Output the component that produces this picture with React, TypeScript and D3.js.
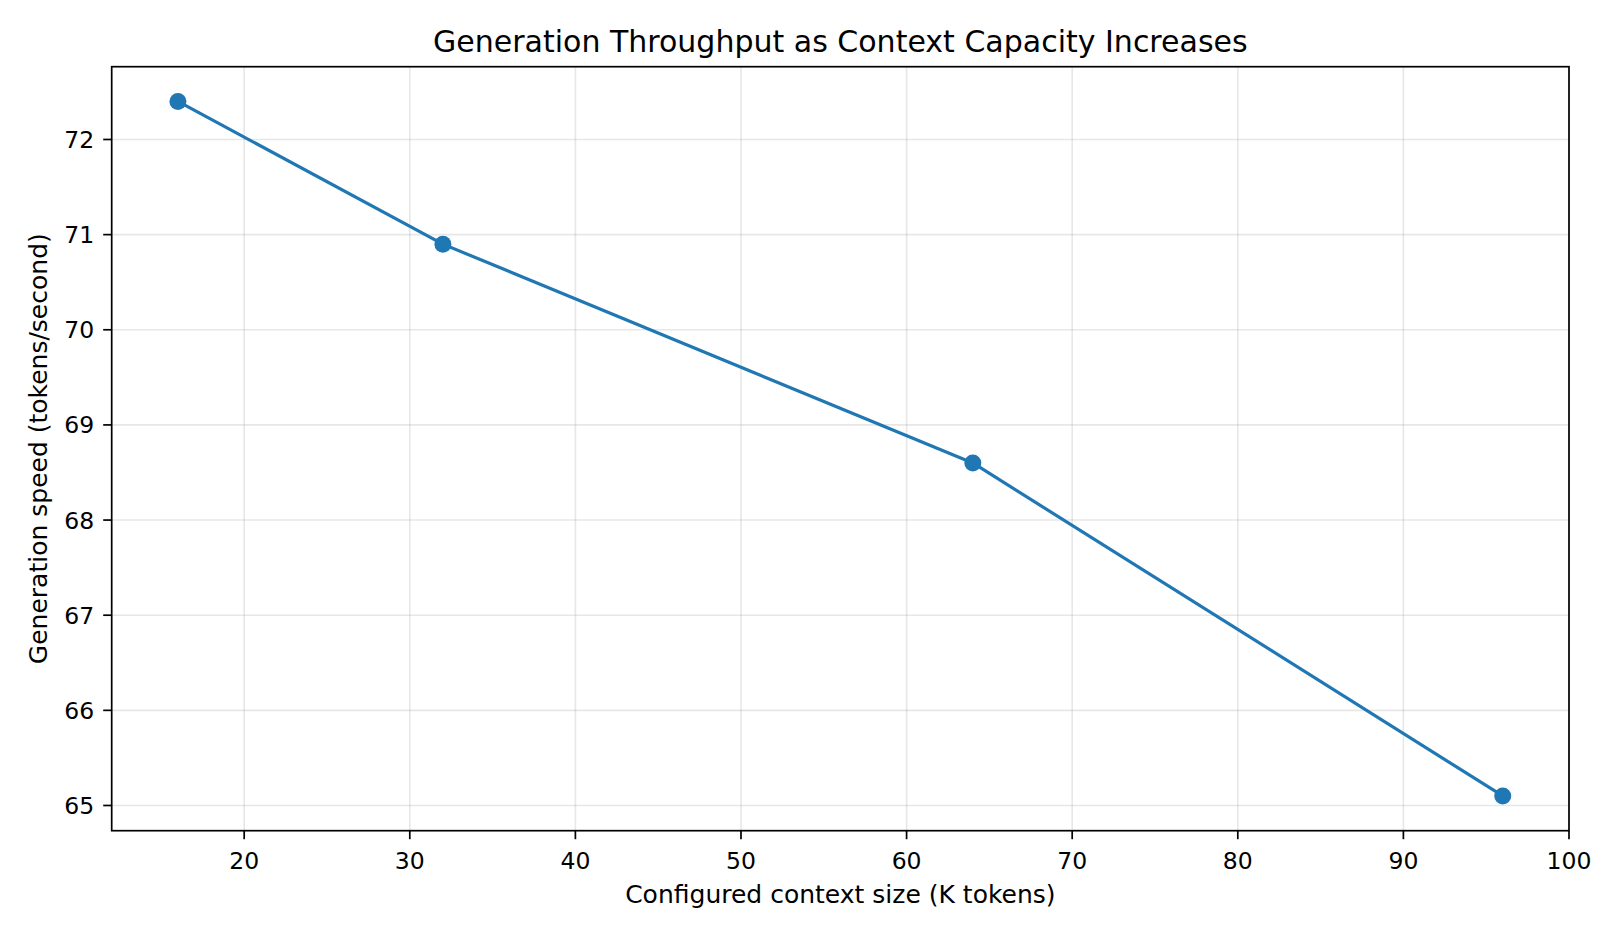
import React from 'react';
import * as d3 from 'd3';

// context size (K tokens) vs generation speed
const contextSizes = [16, 32, 64, 96];
const speeds = [72.4, 70.9, 68.6, 65.1];
const xTicks = [20, 30, 40, 50, 60, 70, 80, 90, 100];
const yTicks = [65, 66, 67, 68, 69, 70, 71, 72];

const title = 'Generation Throughput as Context Capacity Increases';
const xLabel = 'Configured context size (K tokens)';
const yLabel = 'Generation speed (tokens/second)';

const W = 1620;
const H = 936;
const margin = { top: 66.7, right: 51, bottom: 105.3, left: 111.7 };
const font = '"DejaVu Sans", sans-serif';
const blue = '#1f77b4';

export default function App() {
  const innerW = W - margin.left - margin.right;
  const innerH = H - margin.top - margin.bottom;

  const pad = 0.05;
  const xExt = d3.extent(contextSizes) as [number, number];
  const yExt = d3.extent(speeds) as [number, number];
  const xr = xExt[1] - xExt[0];
  const yr = yExt[1] - yExt[0];

  const x = d3.scaleLinear()
    .domain([xExt[0] - xr * pad, xExt[1] + xr * pad])
    .range([0, innerW]);
  const y = d3.scaleLinear()
    .domain([yExt[0] - yr * pad, yExt[1] + yr * pad])
    .range([innerH, 0]);

  const line = d3.line<number>()
    .x((_, i) => x(contextSizes[i]))
    .y(d => y(d));

  const tickLen = 8.5;

  return (
    <svg
      width={W}
      height={H}
      style={{ position: 'absolute', left: 0, top: 0, background: '#fff' }}
      fontFamily={font}
    >
      <text x={margin.left + innerW / 2} y={51.7} textAnchor="middle" fontSize={30} fill="#000">
        {title}
      </text>
      <g transform={`translate(${margin.left},${margin.top})`}>
        {/* grid */}
        {xTicks.map(t => (
          <line key={'gx' + t} x1={x(t)} x2={x(t)} y1={0} y2={innerH} stroke="#b0b0b0" strokeOpacity={0.3} strokeWidth={1.6} />
        ))}
        {yTicks.map(t => (
          <line key={'gy' + t} x1={0} x2={innerW} y1={y(t)} y2={y(t)} stroke="#b0b0b0" strokeOpacity={0.3} strokeWidth={1.6} />
        ))}

        {/* series */}
        <path d={line(speeds) || ''} fill="none" stroke={blue} strokeWidth={3.2} strokeLinejoin="round" strokeLinecap="round" />
        {speeds.map((s, i) => (
          <circle key={i} cx={x(contextSizes[i])} cy={y(s)} r={8.5} fill={blue} />
        ))}

        {/* spines */}
        <rect x={0} y={0} width={innerW} height={innerH} fill="none" stroke="#000" strokeWidth={1.7} />

        {/* x axis */}
        {xTicks.map(t => (
          <g key={'xt' + t} transform={`translate(${x(t)},${innerH})`}>
            <line y1={0} y2={tickLen} stroke="#000" strokeWidth={1.7} />
            <text y={tickLen + 29.5} textAnchor="middle" fontSize={23.5} fill="#000">{t}</text>
          </g>
        ))}
        {/* y axis */}
        {yTicks.map(t => (
          <g key={'yt' + t} transform={`translate(0,${y(t)})`}>
            <line x1={0} x2={-tickLen} stroke="#000" strokeWidth={1.7} />
            <text x={-tickLen - 9} dy="0.36em" textAnchor="end" fontSize={23.5} fill="#000">{t}</text>
          </g>
        ))}

        <text x={innerW / 2} y={innerH + 72} textAnchor="middle" fontSize={25} fill="#000">
          {xLabel}
        </text>
        <text
          transform={`translate(${-margin.left + 47},${innerH / 2}) rotate(-90)`}
          textAnchor="middle"
          fontSize={25}
          fill="#000"
        >
          {yLabel}
        </text>
      </g>
    </svg>
  );
}
